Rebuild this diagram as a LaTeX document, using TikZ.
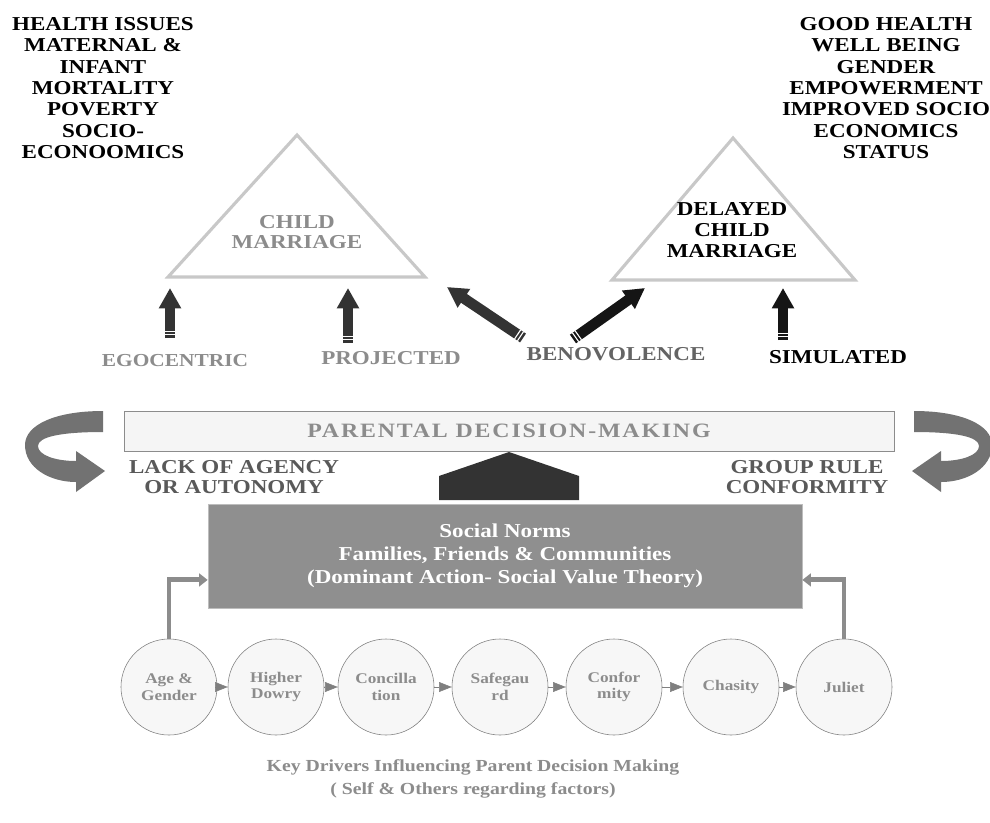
\documentclass[tikz,border=0pt]{standalone}
\usepackage{fontspec}
\setmainfont{Liberation Serif}[FakeStretch=1.17]
\usetikzlibrary{arrows.meta,calc}

\definecolor{txtgray}{HTML}{8C8C8C}
\definecolor{dkgray}{HTML}{595959}
\definecolor{midgray}{HTML}{646464}
\definecolor{arrowdark}{HTML}{333333}
\definecolor{arrowblack}{HTML}{151515}
\definecolor{trigray}{HTML}{C8C8C8}
\definecolor{bendgray}{HTML}{727272}
\definecolor{normgray}{HTML}{8F8F8F}
\definecolor{normedge}{HTML}{BDBDBD}
\definecolor{circgray}{HTML}{7F7F7F}
\definecolor{circfill}{HTML}{F7F7F7}

\newcommand*{\picw}{990}
\newcommand*{\pich}{822}

% two white bands across the tail of a block arrow
\newcommand*{\tailstripes}[2]{%
	\draw[white,line width=0.8pt] ($($(#1)!2.2pt!(#2)$)!3.9pt!90:(#2)$) -- ($($(#1)!2.2pt!(#2)$)!3.9pt!-90:(#2)$);
	\draw[white,line width=0.8pt] ($($(#1)!4.6pt!(#2)$)!3.9pt!90:(#2)$) -- ($($(#1)!4.6pt!(#2)$)!3.9pt!-90:(#2)$);
}

\begin{document}
\begin{tikzpicture}
[
	x=0.025cm,y=-0.025cm,
	heading/.style={font=\bfseries\fontsize{14}{15.2}\selectfont,align=center,inner sep=0pt},
	tri/.style={draw=trigray,line width=2.2pt,line join=miter},
	blockarr/.style={line width=7.5pt,-{Triangle[width=15pt,length=14.5pt]}},
	driver/.style={circle,draw=circgray,fill=circfill,minimum size=2.4cm,inner sep=0pt,align=center,
		text=txtgray,font=\bfseries\fontsize{10.5}{11.6}\selectfont},
	flow/.style={draw=circgray,thin,-{Triangle[width=7pt,length=9pt]}},
	feed/.style={draw=txtgray,line width=3.5pt,-{Triangle[width=9pt,length=6pt]}}
]

	% page
	\fill[white] (0,0) rectangle (\picw,\pich);
	\useasboundingbox (0,0) rectangle (\picw,\pich);

	% outcome lists
	\node[heading] (issues) at (103,88) {HEALTH ISSUES\\MATERNAL \&\\INFANT\\MORTALITY\\POVERTY\\SOCIO-\\ECONOOMICS};
	\node[heading] (benefits) at (886,88) {GOOD HEALTH\\WELL BEING\\GENDER\\EMPOWERMENT\\IMPROVED SOCIO\\ECONOMICS\\STATUS};

	% triangles
	\draw[tri] (168,277) -- (297,135) -- (425,277) -- cycle;
	\node[heading,text=txtgray,font=\bfseries\fontsize{14}{14.2}\selectfont] (child) at (297,232) {CHILD\\MARRIAGE};
	\draw[tri] (612,280) -- (733,138) -- (855,280) -- cycle;
	\node[heading] (delayed) at (732,230) {DELAYED\\CHILD\\MARRIAGE};

	% block arrows
	\coordinate (egoTail) at (170,338);
	\coordinate (egoTip) at (170,288);
	\draw[blockarr,arrowdark] (egoTail) -- (egoTip);
	\tailstripes{egoTail}{egoTip}
	%
	\coordinate (projTail) at (348,343);
	\coordinate (projTip) at (348,288);
	\draw[blockarr,arrowdark] (projTail) -- (projTip);
	\tailstripes{projTail}{projTip}
	%
	\coordinate (benLTail) at (523,338);
	\coordinate (benLTip) at (447,287);
	\draw[blockarr,arrowdark] (benLTail) -- (benLTip);
	\tailstripes{benLTail}{benLTip}
	%
	\coordinate (benRTail) at (573,339);
	\coordinate (benRTip) at (645,288);
	\draw[blockarr,arrowblack] (benRTail) -- (benRTip);
	\tailstripes{benRTail}{benRTip}
	%
	\coordinate (simTail) at (783,340);
	\coordinate (simTip) at (783,288);
	\draw[blockarr,arrowblack] (simTail) -- (simTip);
	\tailstripes{simTail}{simTip}

	% perspectives
	\node[heading,text=txtgray,font=\bfseries\fontsize{13}{15.2}\selectfont] (ego) at (175,361) {EGOCENTRIC};
	\node[heading,text=txtgray] (proj) at (391,358) {PROJECTED};
	\node[heading,text=midgray] (ben) at (616,354) {BENOVOLENCE};
	\node[heading] (sim) at (838,357) {SIMULATED};

	% decision bar
	\node[draw=txtgray,fill=black!4,minimum width=19.25cm,minimum height=1cm,inner sep=0pt,text=txtgray,
		font=\bfseries\fontsize{14.5}{15}\selectfont\addfontfeature{LetterSpace=9}] (parental) at (509,431) {PARENTAL DECISION-MAKING};

	% turning arrows
	\fill[bendgray] (103,411) .. controls (55,411) and (25,425) .. (25,445) .. controls (25,468) and (50,482) .. (76,482)
		-- (76,492) -- (105,471) -- (76,451) -- (76,461) .. controls (55,461) and (38,455) .. (38,446)
		.. controls (38,437) and (60,432) .. (103,432) -- cycle;
	\begin{scope}[shift={(1017,0)},xscale=-1]
		\fill[bendgray] (103,411) .. controls (55,411) and (25,425) .. (25,445) .. controls (25,468) and (50,482) .. (76,482)
			-- (76,492) -- (105,471) -- (76,451) -- (76,461) .. controls (55,461) and (38,455) .. (38,446)
			.. controls (38,437) and (60,432) .. (103,432) -- cycle;
	\end{scope}
	\node[heading,text=dkgray,font=\bfseries\fontsize{14}{14.2}\selectfont] (agency) at (234,477) {LACK OF AGENCY\\OR AUTONOMY};
	\node[heading,text=dkgray,font=\bfseries\fontsize{14}{14.2}\selectfont] (group) at (807,477) {GROUP RULE\\CONFORMITY};

	% upward house arrow
	\fill[arrowdark] (439,500) -- (439,476) -- (509,452) -- (579,476) -- (579,500) -- cycle;

	% social norms
	\node[draw=normedge,fill=normgray,minimum width=14.85cm,minimum height=2.6cm,inner sep=0pt,text=white,align=center,
		font=\bfseries\fontsize{14}{16.4}\selectfont] (norms) at (505,556)
		{Social Norms\\Families, Friends \& Communities\\(Dominant Action- Social Value Theory)};

	% key drivers
	\foreach \name/\xx/\txt in {age/169/{Age \&\\Gender},dowry/276/{Higher\\Dowry},concil/386/{Concilla\\tion},
		safe/500/{Safegau\\rd},confor/614/{Confor\\mity},chasity/731/{Chasity},juliet/844/{Juliet}}
		\node[driver] (\name) at (\xx,687) {\txt};
	\foreach \a/\b in {age/dowry,dowry/concil,concil/safe,safe/confor,confor/chasity,chasity/juliet}
		\draw[flow] (\a) -- (\b);
	\draw[feed] (age.north) |- ([yshift=-17pt]norms.west);
	\draw[feed] (juliet.north) |- ([yshift=-17pt]norms.east);

	% caption
	\node[font=\bfseries\fontsize{12}{16}\selectfont,text=txtgray,align=center,inner sep=0pt] (keydrivers) at (473,779)
		{Key Drivers Influencing Parent Decision Making\\( Self \& Others regarding factors)};

\end{tikzpicture}
\end{document}
